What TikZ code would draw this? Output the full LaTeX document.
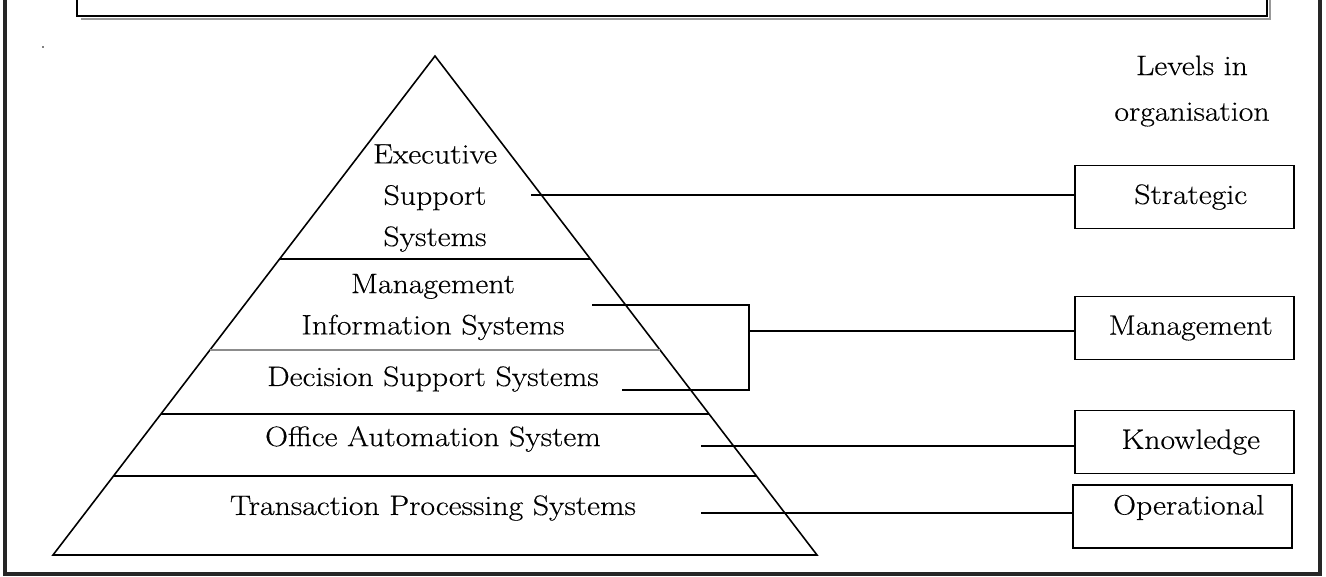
\documentclass[tikz,border=0pt]{standalone}
\usepackage{fontspec}
\setmainfont{Latin Modern Roman}[FakeStretch=1.13, FakeBold=0.4]
\usetikzlibrary{calc}
\begin{document}
\begin{tikzpicture}[x=0.02cm, y=-0.02cm]
    \tikzset{lbl/.style={font=\fontsize{16}{23.5}\selectfont, align=center, inner sep=0pt},
             levelbox/.style={draw, line width=1.1pt, minimum width=4.38cm, minimum height=1.26cm,
                              inner sep=0pt, font=\fontsize{16}{19}\selectfont},
             conn/.style={line width=0.9pt}}

    \useasboundingbox (0,0) rectangle (1326,576);
    \clip (0,0) rectangle (1326,576);

    % frame and the box above
    \draw[line width=1.8pt, black!85] (5,-20) rectangle (1320,574);
    \draw[line width=1.5pt, black!40] (81,19) -| (1270,-20);
    \draw[line width=1.2pt] (77,-20) rectangle (1267,16);
    \fill (43,47) circle (0.8);

    % pyramid
    \coordinate (apex) at (435,56);
    \coordinate (bl) at (53,555);
    \coordinate (br) at (817,555);
    \draw[line width=0.9pt] (apex) -- (br) -- (bl) -- cycle;
    \foreach \t/\col in {0.407/black, 0.589/black!45, 0.717/black, 0.842/black}
        \draw[line width=0.9pt, \col] ($(apex)!\t!(bl)$) -- ($(apex)!\t!(br)$);

    \node[lbl] (ess) at (435,198) {Executive\\Support\\Systems};
    \node[lbl] (mis) at (433,307) {Management\\Information Systems};
    \node[lbl] (dss) at (433,379) {Decision Support Systems};
    \node[lbl] (oas) at (433,439) {Office Automation System};
    \node[lbl] (tps) at (433,508) {Transaction Processing Systems};

    % levels
    \node[lbl, font=\fontsize{16}{26}\selectfont] (levels) at (1192,91) {Levels in\\organisation};
    \node[levelbox] (strategic) at (1184.5,197) {\hspace*{0.25cm}Strategic};
    \node[levelbox] (management) at (1184.5,328) {\hspace*{0.25cm}Management};
    \node[levelbox] (knowledge) at (1184.5,442) {\hspace*{0.25cm}Knowledge};
    \node[levelbox, text height=0.4cm, text depth=0.48cm] (operational) at (1182.5,516.5) {\hspace*{0.25cm}Operational};

    \coordinate (ess-end) at (531,195);
    \coordinate (mis-end) at (592,305);
    \coordinate (dss-end) at (622,390);
    \coordinate (bracket) at (749,331);
    \coordinate (oas-end) at (701,446);
    \coordinate (tps-end) at (701,513);

    \draw[conn] (ess-end) -- (ess-end -| strategic.west);
    \draw[conn] (mis-end) -| (bracket) |- (dss-end);
    \draw[conn] (bracket) -- (bracket -| management.west);
    \draw[conn] (oas-end) -- (oas-end -| knowledge.west);
    \draw[conn] (tps-end) -- (tps-end -| operational.west);
\end{tikzpicture}
\end{document}
